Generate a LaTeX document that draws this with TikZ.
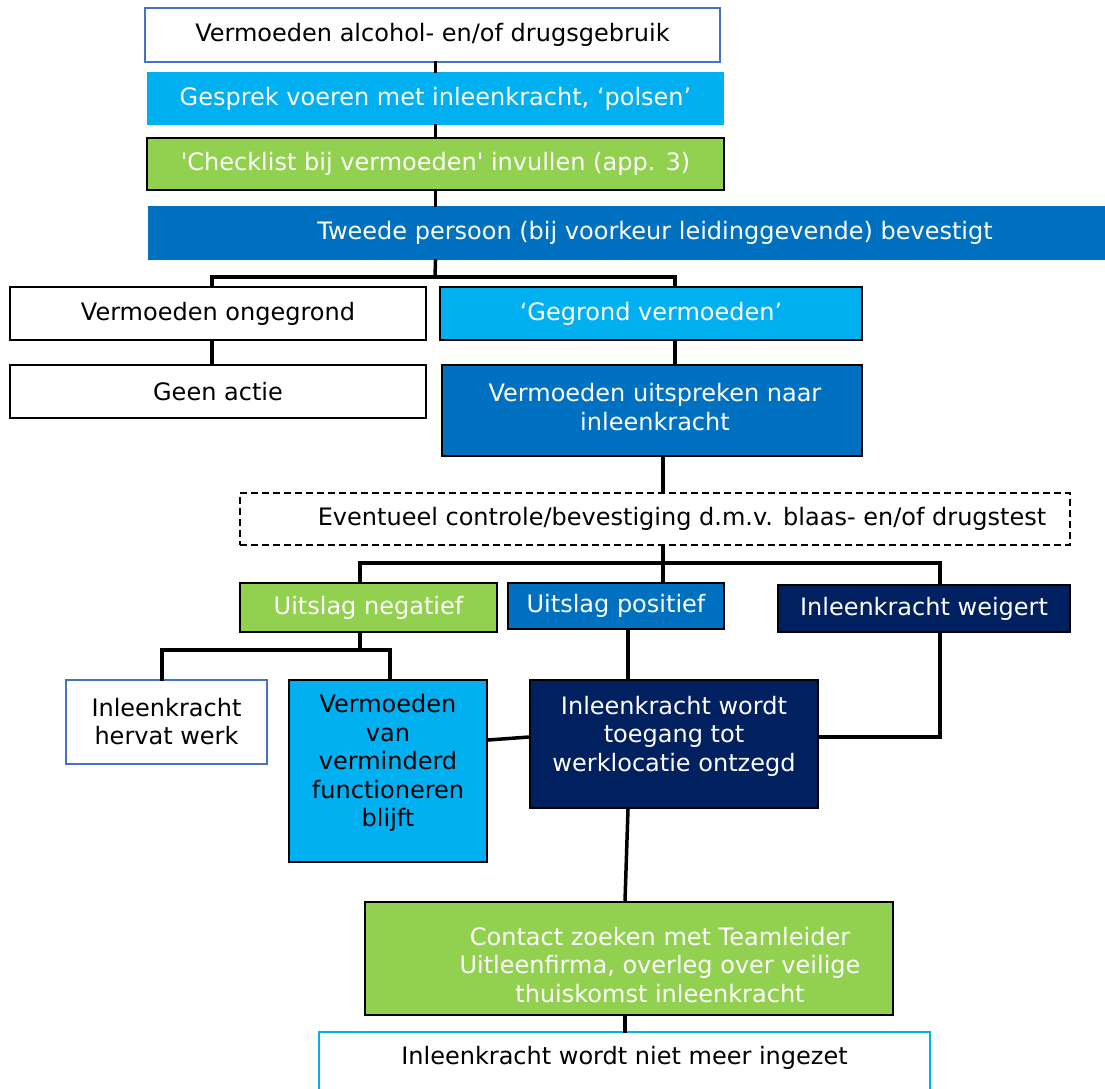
\documentclass[tikz,border=0pt]{standalone}
\usepackage{fontspec}
\setmainfont{DejaVu Sans}[Ligatures=TeXOff]
\definecolor{cyanC}{HTML}{00B0F0}
\definecolor{blueC}{HTML}{0070C0}
\definecolor{greenC}{HTML}{92D050}
\definecolor{navyC}{HTML}{002060}
\definecolor{bordB}{HTML}{4472C4}
\begin{document}
\begin{tikzpicture}[x=1pt,y=-1pt,
  box/.style={rectangle, inner sep=0pt, line width=2pt, align=center,
    font=\fontsize{24}{28}\selectfont},
  wbox/.style={box, draw=black, fill=white, text=black},
  conn/.style={line width=3.5pt, line cap=rect},
  txt/.style={inner sep=0pt, align=center, font=\fontsize{24}{28.5}\selectfont}]
\useasboundingbox (0,0) rectangle (1105,1088);
\fill[white] (0,0) rectangle (1105,1088);

% nodes
\node[box, draw=bordB, fill=white, minimum width=575, minimum height=54] (b1) at (432.5,35) {Vermoeden alcohol- en/of drugsgebruik};
\node[box, fill=cyanC, text=white, minimum width=577, minimum height=53] (b2) at (435.5,98.5) {Gesprek voeren met inleenkracht, ‘polsen’};
\node[box, draw=black, fill=greenC, text=white, minimum width=577, minimum height=52] (b3) at (435.5,164) {'Checklist bij vermoeden' invullen (app. 3)};
\node[box, fill=blueC, minimum width=957, minimum height=54] (b4) at (626.5,233) {};
\node[txt, text=white] (t4) at (655,233) {Tweede persoon (bij voorkeur leidinggevende) bevestigt};

\node[wbox, minimum width=416, minimum height=53] (b5) at (218,313.5) {Vermoeden ongegrond};
\node[box, draw=black, fill=cyanC, text=white, minimum width=422, minimum height=53] (b6) at (651,313.5) {‘Gegrond vermoeden’};
\node[wbox, minimum width=416, minimum height=53] (b7) at (218,391.5) {Geen actie};
\node[box, draw=black, fill=blueC, text=white, minimum width=420, minimum height=91] (b8) at (652,410.5) {};
\node[txt, text=white] (t8) at (655,407) {Vermoeden uitspreken naar\\inleenkracht};

\node[box, draw=black, dash pattern=on 7pt off 4pt, fill=white, minimum width=830, minimum height=52] (b9) at (655,519) {};
\node[txt] (t9) at (682,519) {Eventueel controle/bevestiging d.m.v. blaas- en/of drugstest};

\node[box, draw=black, fill=greenC, text=white, minimum width=257, minimum height=49] (b10) at (368.5,607.5) {Uitslag negatief};
\node[box, draw=black, fill=blueC, text=white, minimum width=216, minimum height=46] (b11) at (616,606) {Uitslag positief};
\node[box, draw=black, fill=navyC, text=white, minimum width=292, minimum height=47] (b12) at (924,608.5) {Inleenkracht weigert};

\node[box, draw=bordB, fill=white, minimum width=201, minimum height=84] (b13) at (166.5,722) {Inleenkracht\\hervat werk};
\node[box, draw=black, fill=cyanC, minimum width=198, minimum height=182] (b14) at (388,771) {};
\node[txt] (t14) at (388,763) {Vermoeden\\van\\verminderd\\functioneren\\blijft};
\node[box, draw=black, fill=navyC, minimum width=288, minimum height=128] (b15) at (674,744) {};
\node[txt, text=white] (t15) at (674,736) {Inleenkracht wordt\\toegang tot\\werklocatie ontzegd};

\node[box, draw=black, fill=greenC, minimum width=528, minimum height=113] (b16) at (629,958.5) {};
\node[txt, text=white] (t16) at (660,965) {Contact zoeken met Teamleider\\Uitleenfirma, overleg over veilige\\thuiskomst inleenkracht};
\node[box, draw=cyanC, fill=white, minimum width=611, minimum height=64] (b17) at (624.5,1064) {};
\node[txt] (t17) at (624.5,1058) {Inleenkracht wordt niet meer ingezet};

% connectors
\draw[conn] (b2.north |- b1.south) -- (b2.north);
\draw[conn] (b2.south) -- (b3.north);
\draw[conn] (b3.south) -- (b3.south |- b4.north);
\coordinate (j1) at (435,277);
\draw[conn] (b3.south |- b4.south) -- (j1);
\draw[conn] ([xshift=-6pt]b5.north) |- ([xshift=24pt]b6.north |- j1) -- ([xshift=24pt]b6.north);
\draw[conn] ([xshift=-6pt]b5.south) -- ([xshift=-6pt]b7.north);
\draw[conn] ([xshift=24pt]b6.south) -- ([xshift=24pt]b6.south |- b8.north);
\draw[conn] ([xshift=11pt]b8.south) -- ([xshift=11pt]b8.south |- b9.north);
\coordinate (j2) at (663,563);
\draw[conn] ([xshift=8pt]b9.south) -- (j2);
\draw[conn] ([xshift=-8.5pt]b10.north) |- ([xshift=16pt]b12.north |- j2) -- ([xshift=16pt]b12.north);
\draw[conn] (j2) -- (j2 |- b11.north);
\coordinate (j3) at (360,650);
\draw[conn] ([xshift=-8.5pt]b10.south) -- (j3);
\draw[conn] ([xshift=-4.5pt]b13.north) |- ([xshift=2pt]b14.north |- j3) -- ([xshift=2pt]b14.north);
\draw[conn] ([yshift=31pt]b14.east) -- ([yshift=7pt]b15.west);
\draw[conn] ([xshift=12pt]b11.south) -- ([xshift=12pt]b11.south |- b15.north);
\draw[conn] ([xshift=16pt]b12.south) |- ([yshift=7pt]b15.east);
\draw[conn] ([xshift=-46pt]b15.south) -- ([xshift=-4pt]b16.north);
\draw[conn] ([xshift=-4pt]b16.south) -- ([xshift=-4pt]b16.south |- b17.north);
\end{tikzpicture}
\end{document}
